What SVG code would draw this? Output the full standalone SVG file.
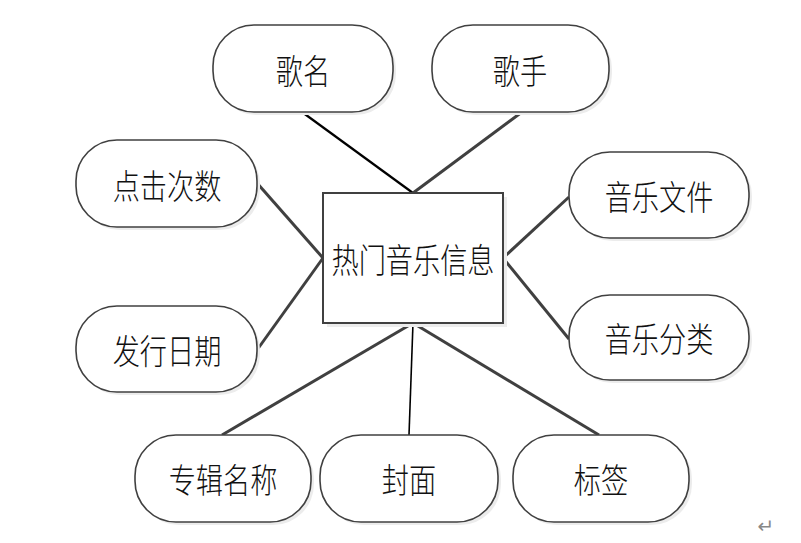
<svg xmlns="http://www.w3.org/2000/svg" width="801" height="543" viewBox="0 0 801 543">
<defs>
<style>
.n{fill:#fff;stroke:#404040;stroke-width:1.6}
.sh{fill:#ececec;stroke:none}
.t{font-family:"Noto Sans CJK SC","Noto Sans CJK TC",sans-serif;font-size:34px;font-weight:300;fill:#111;text-anchor:middle;dominant-baseline:central}
.c{stroke:#404040;stroke-width:3;fill:none}
</style>
</defs>
<rect width="801" height="543" fill="#fff"/>
<g id="connectors">
<line class="c" x1="302" y1="112" x2="413" y2="193" style="stroke:#000;stroke-width:2.2"/>
<line class="c" x1="522" y1="112" x2="413" y2="193"/>
<line class="c" x1="257" y1="183" x2="323" y2="258"/>
<line class="c" x1="257" y1="350" x2="323" y2="258"/>
<line class="c" x1="569" y1="197" x2="503" y2="258"/>
<line class="c" x1="569" y1="339" x2="503" y2="258"/>
<line class="c" x1="222" y1="435" x2="413" y2="323"/>
<line class="c" x1="409" y1="435" x2="413" y2="323" style="stroke:#000;stroke-width:1.6"/>
<line class="c" x1="599" y1="435" x2="413" y2="323"/>
</g>
<g id="center">
<rect class="sh" x="327" y="197" width="180" height="130"/>
<rect class="n" x="323" y="193" width="180" height="130" style="stroke-width:2"/>
<text class="t" transform="translate(413,258) scale(0.8,1)">热门音乐信息</text>
</g>
<g id="gemin">
<rect class="sh" x="216" y="28" width="180" height="87" rx="41"/>
<rect class="n" x="213" y="25" width="180" height="87" rx="41"/>
<text class="t" transform="translate(303,69) scale(0.8,1)">歌名</text>
</g>
<g id="geshou">
<rect class="sh" x="435" y="28" width="177" height="87" rx="41"/>
<rect class="n" x="432" y="25" width="177" height="87" rx="41"/>
<text class="t" transform="translate(520,69) scale(0.8,1)">歌手</text>
</g>
<g id="dianji">
<rect class="sh" x="79" y="143" width="181" height="87" rx="41"/>
<rect class="n" x="76" y="140" width="181" height="87" rx="41"/>
<text class="t" transform="translate(167,184) scale(0.8,1)">点击次数</text>
</g>
<g id="faxing">
<rect class="sh" x="79" y="309" width="181" height="86" rx="41"/>
<rect class="n" x="76" y="306" width="181" height="86" rx="41"/>
<text class="t" transform="translate(167,349) scale(0.8,1)">发行日期</text>
</g>
<g id="wenjian">
<rect class="sh" x="572" y="155" width="180" height="86" rx="41"/>
<rect class="n" x="569" y="152" width="180" height="86" rx="41"/>
<text class="t" transform="translate(659,195) scale(0.8,1)">音乐文件</text>
</g>
<g id="fenlei">
<rect class="sh" x="572" y="298" width="180" height="85" rx="41"/>
<rect class="n" x="569" y="295" width="180" height="85" rx="41"/>
<text class="t" transform="translate(659,337) scale(0.8,1)">音乐分类</text>
</g>
<g id="zhuanji">
<rect class="sh" x="138" y="438" width="176" height="87" rx="41"/>
<rect class="n" x="135" y="435" width="176" height="87" rx="41"/>
<text class="t" transform="translate(223,478) scale(0.8,1)">专辑名称</text>
</g>
<g id="fengmian">
<rect class="sh" x="323" y="438" width="178" height="87" rx="41"/>
<rect class="n" x="320" y="435" width="178" height="87" rx="41"/>
<text class="t" transform="translate(409,478) scale(0.8,1)">封面</text>
</g>
<g id="biaoqian">
<rect class="sh" x="516" y="438" width="176" height="87" rx="41"/>
<rect class="n" x="513" y="435" width="176" height="87" rx="41"/>
<text class="t" transform="translate(601,478) scale(0.8,1)">标签</text>
</g>
<text x="766" y="533" style="font-family:'DejaVu Sans',sans-serif;font-size:20px;fill:#888;text-anchor:middle">↵</text>
</svg>
